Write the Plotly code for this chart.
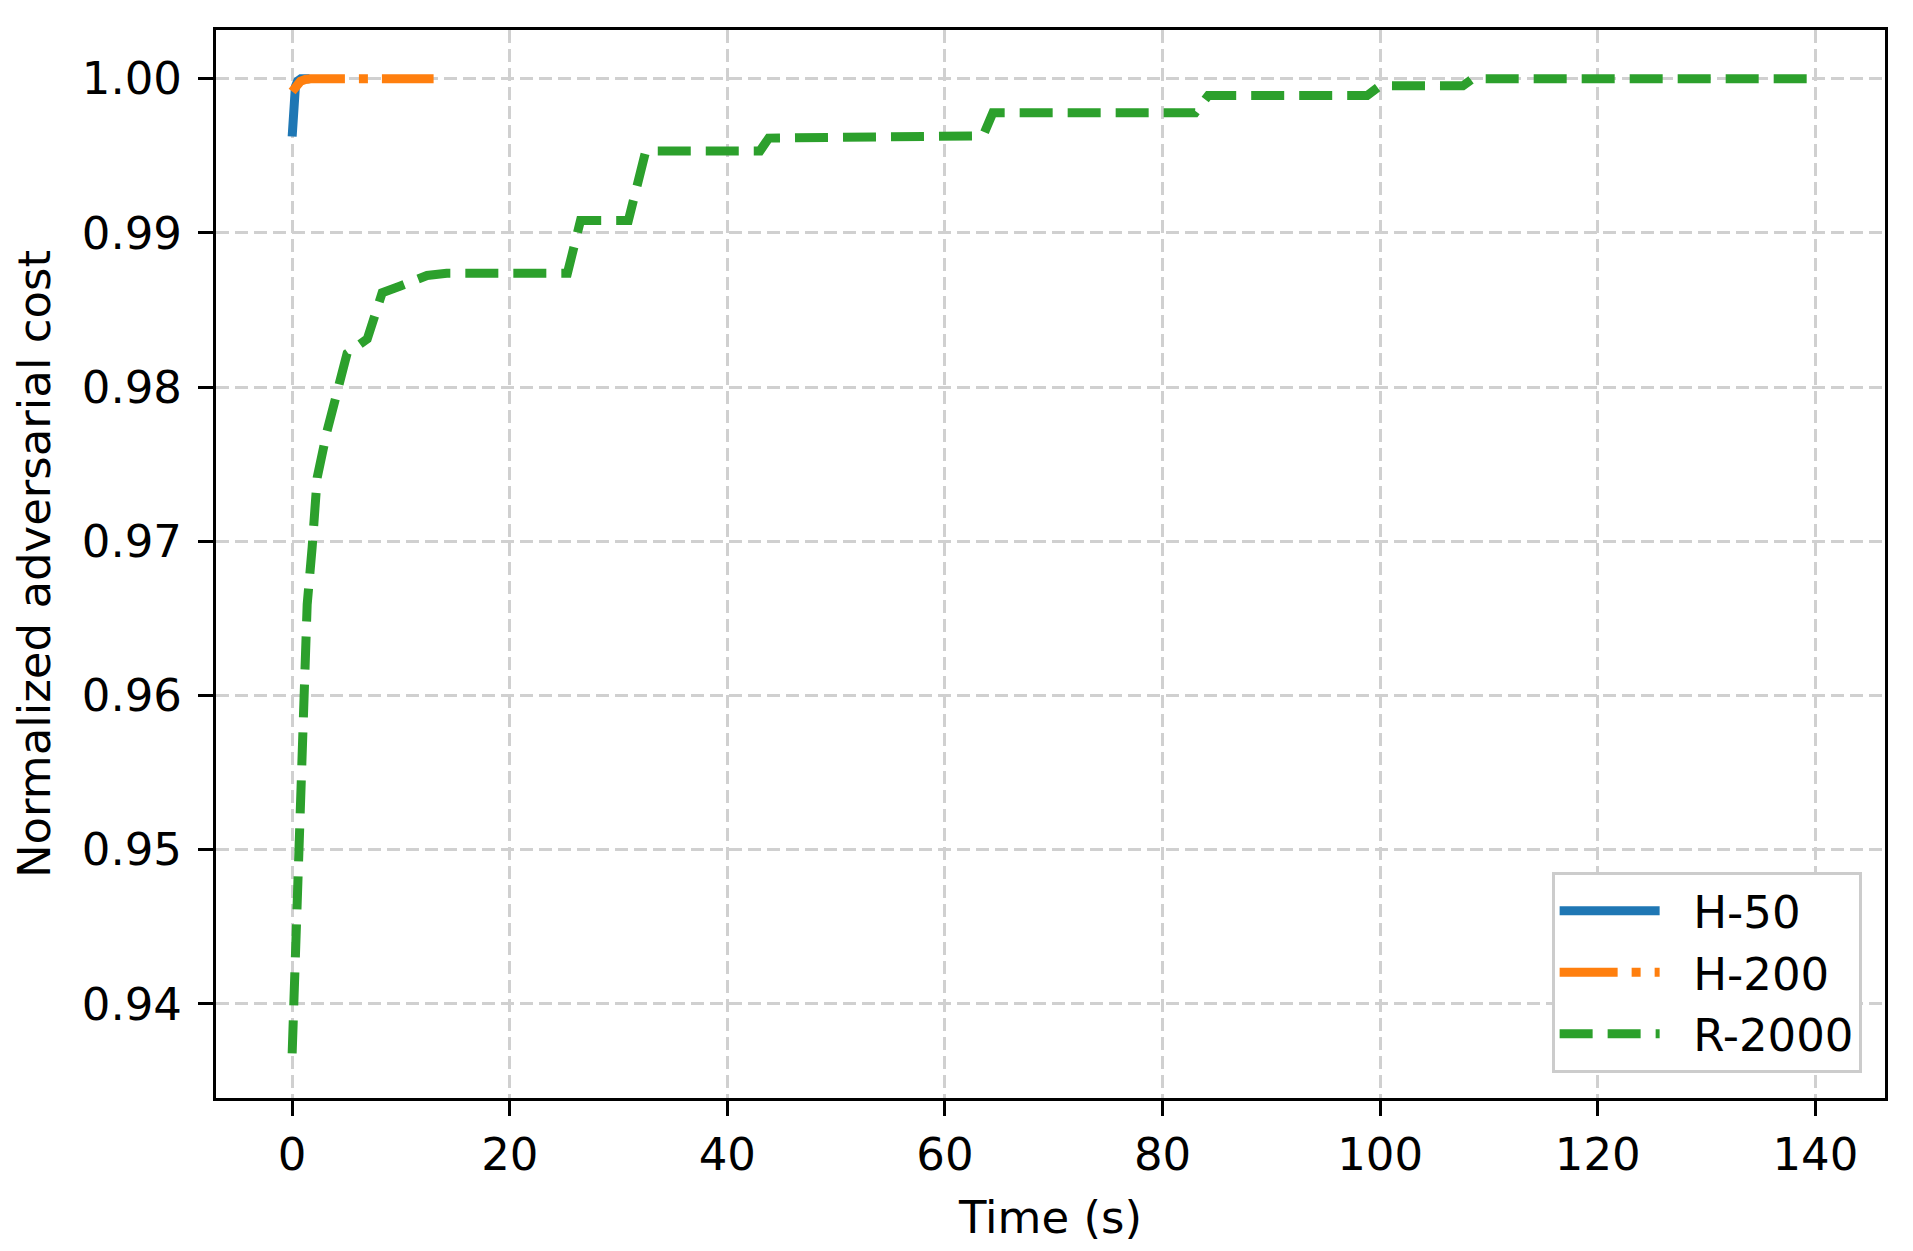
import plotly.graph_objects as go

# H-50
h50_t = [0.0, 0.05, 0.15, 0.3, 0.5, 0.8, 1.2, 1.6]
h50_y = [0.99625, 0.9970, 0.9982, 0.9995, 0.99985, 1.0, 1.0, 1.0]

# H-200
h200_t = [0.0, 0.3, 0.76, 1.2, 1.7, 4.0, 8.0, 13.0]
h200_y = [0.99917, 0.99950, 0.99983, 0.99995, 1.0, 1.0, 1.0, 1.0]

# R-2000
r2000_t = [0.0, 0.15, 0.46, 0.76, 1.07, 1.38, 1.84, 2.30, 3.2, 4.14, 5.05, 6.9, 8.27, 9.95,
           12.4, 14.2, 25.3, 26.5, 30.9, 32.5, 43.0, 43.8, 63.5, 64.4, 83.0, 84.2,
           98.8, 100.0, 107.6, 108.5, 139.3]
r2000_y = [0.93680, 0.9400, 0.94979, 0.95653, 0.96217, 0.96590, 0.96964, 0.97413, 0.97713,
           0.97975, 0.98219, 0.98312, 0.98612, 0.98656, 0.98724, 0.98739, 0.98739, 0.99080,
           0.99080, 0.99532, 0.99532, 0.99615, 0.99630, 0.99780, 0.99780, 0.99891,
           0.99891, 0.99954, 0.99954, 1.0000, 1.0000]

x_ticks = [0, 20, 40, 60, 80, 100, 120, 140]
y_ticks = [0.94, 0.95, 0.96, 0.97, 0.98, 0.99, 1.00]

FONT = "DejaVu Sans"
FS = 45
PAD = "\u00a0\u00a0"

fig = go.Figure()
fig.add_trace(go.Scatter(x=h50_t, y=h50_y, mode="lines", name=PAD + "H-50",
                         line=dict(color="#1f77b4", width=9)))
fig.add_trace(go.Scatter(x=h200_t, y=h200_y, mode="lines", name=PAD + "H-200",
                         line=dict(color="#ff7f0e", width=9, dash="58px,14px,9px,14px")))
fig.add_trace(go.Scatter(x=r2000_t, y=r2000_y, mode="lines", name=PAD + "R-2000",
                         line=dict(color="#2ca02c", width=9, dash="33px,15px")))

axis_common = dict(
    showline=True, linecolor="black", linewidth=3, mirror=True,
    ticks="outside", ticklen=15, tickwidth=3, tickcolor="black",
    showgrid=True, gridcolor="#d0d0d0", gridwidth=3, griddash="13px,6px",
    zeroline=False, tickfont=dict(family=FONT, size=FS, color="black"),
)

fig.update_xaxes(range=[-7.0, 146.4], tickvals=x_ticks,
                 ticktext=[str(v) for v in x_ticks],
                 title=dict(text="Time (s)", font=dict(family=FONT, size=FS, color="black"),
                            standoff=22),
                 **axis_common)
fig.update_yaxes(range=[0.93390, 1.00316], tickvals=y_ticks,
                 ticktext=[f"{v:.2f}" for v in y_ticks],
                 ticklabelstandoff=7,
                 title=dict(text="Normalized adversarial cost",
                            font=dict(family=FONT, size=FS, color="black"), standoff=18),
                 **axis_common)

fig.update_layout(
    width=1913, height=1251,
    margin=dict(l=208, r=36, t=22, b=161, autoexpand=False),
    plot_bgcolor="white", paper_bgcolor="white",
    font=dict(family=FONT, size=FS, color="black"),
    legend=dict(x=0.986, y=0.0234, xanchor="right", yanchor="bottom",
                bgcolor="white", bordercolor="#cccccc", borderwidth=3,
                font=dict(family=FONT, size=FS, color="black"),
                itemwidth=100, tracegroupgap=0),
    showlegend=True,
)

fig.write_html("out.html")
